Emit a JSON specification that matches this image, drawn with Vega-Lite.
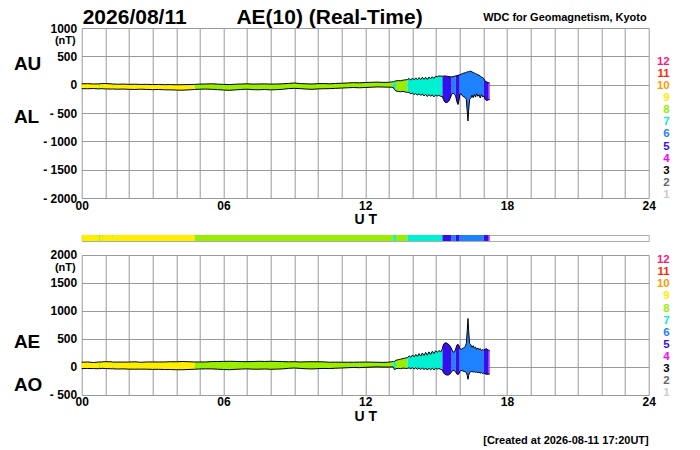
{
  "$schema": "https://vega.github.io/schema/vega-lite/v6.json",
  "padding": {"left": 12.7, "top": 7, "right": 0, "bottom": 0},
  "bounds": "flush",
  "spacing": 37,
  "config": {
    "font": "Liberation Sans",
    "view": {"stroke": null},
    "axis": {
      "grid": true, "gridColor": "#999999", "gridWidth": 1, "gridOpacity": 1,
      "domain": false, "ticks": false,
      "labelFontSize": 12, "labelFontWeight": "bold", "labelColor": "#000000",
      "titleColor": "#000000", "titleFontWeight": "bold"
    },
    "axisX": {"tickCount": 24},
    "axisY": {"tickCount": 6},
    "text": {"fontWeight": "bold", "color": "#000000"}
  },
  "datasets": {
    "ae": [
      {"t": 0, "au": 15, "al": -70, "ae": 85, "ao": -28, "n": 9, "seg": 1},
      {"t": 0.25, "au": 18, "al": -72, "ae": 90, "ao": -27, "n": 9, "seg": 1},
      {"t": 0.5, "au": 12, "al": -68, "ae": 80, "ao": -28, "n": 9, "seg": 1},
      {"t": 0.73, "au": 14, "al": -75, "ae": 89, "ao": -31, "n": 9, "seg": 1},
      {"t": 0.73, "au": 14, "al": -75, "ae": 89, "ao": -31, "n": 8, "seg": 2},
      {"t": 0.77, "au": 16, "al": -73, "ae": 89, "ao": -29, "n": 8, "seg": 2},
      {"t": 0.77, "au": 16, "al": -73, "ae": 89, "ao": -29, "n": 9, "seg": 3},
      {"t": 0.86, "au": 20, "al": -70, "ae": 90, "ao": -25, "n": 9, "seg": 3},
      {"t": 0.86, "au": 20, "al": -70, "ae": 90, "ao": -25, "n": 8, "seg": 4},
      {"t": 0.89, "au": 22, "al": -72, "ae": 94, "ao": -25, "n": 8, "seg": 4},
      {"t": 0.89, "au": 22, "al": -72, "ae": 94, "ao": -25, "n": 9, "seg": 5},
      {"t": 1, "au": 20, "al": -75, "ae": 95, "ao": -28, "n": 9, "seg": 5},
      {"t": 1.28, "au": 14, "al": -78, "ae": 92, "ao": -32, "n": 9, "seg": 5},
      {"t": 1.28, "au": 14, "al": -78, "ae": 92, "ao": -32, "n": 8, "seg": 6},
      {"t": 1.31, "au": 12, "al": -76, "ae": 88, "ao": -32, "n": 8, "seg": 6},
      {"t": 1.31, "au": 12, "al": -76, "ae": 88, "ao": -32, "n": 9, "seg": 7},
      {"t": 1.5, "au": 8, "al": -80, "ae": 88, "ao": -36, "n": 9, "seg": 7},
      {"t": 1.75, "au": 10, "al": -78, "ae": 88, "ao": -34, "n": 9, "seg": 7},
      {"t": 2, "au": 6, "al": -82, "ae": 88, "ao": -38, "n": 9, "seg": 7},
      {"t": 2.25, "au": 8, "al": -85, "ae": 93, "ao": -39, "n": 9, "seg": 7},
      {"t": 2.5, "au": 4, "al": -80, "ae": 84, "ao": -38, "n": 9, "seg": 7},
      {"t": 2.75, "au": 6, "al": -84, "ae": 90, "ao": -39, "n": 9, "seg": 7},
      {"t": 3, "au": 2, "al": -88, "ae": 90, "ao": -43, "n": 9, "seg": 7},
      {"t": 3.25, "au": 4, "al": -85, "ae": 89, "ao": -41, "n": 9, "seg": 7},
      {"t": 3.5, "au": 0, "al": -90, "ae": 90, "ao": -45, "n": 9, "seg": 7},
      {"t": 3.75, "au": 2, "al": -92, "ae": 94, "ao": -45, "n": 9, "seg": 7},
      {"t": 4, "au": -2, "al": -95, "ae": 93, "ao": -49, "n": 9, "seg": 7},
      {"t": 4.25, "au": 0, "al": -98, "ae": 98, "ao": -49, "n": 9, "seg": 7},
      {"t": 4.5, "au": 2, "al": -92, "ae": 94, "ao": -45, "n": 9, "seg": 7},
      {"t": 4.78, "au": 5, "al": -85, "ae": 90, "ao": -40, "n": 9, "seg": 7},
      {"t": 4.78, "au": 5, "al": -85, "ae": 90, "ao": -40, "n": 8, "seg": 8},
      {"t": 5, "au": 10, "al": -80, "ae": 90, "ao": -35, "n": 8, "seg": 8},
      {"t": 5.25, "au": 12, "al": -78, "ae": 90, "ao": -33, "n": 8, "seg": 8},
      {"t": 5.5, "au": 15, "al": -82, "ae": 97, "ao": -34, "n": 8, "seg": 8},
      {"t": 5.75, "au": 10, "al": -88, "ae": 98, "ao": -39, "n": 8, "seg": 8},
      {"t": 6, "au": 5, "al": -95, "ae": 100, "ao": -45, "n": 8, "seg": 8},
      {"t": 6.25, "au": 2, "al": -100, "ae": 102, "ao": -49, "n": 8, "seg": 8},
      {"t": 6.5, "au": 8, "al": -92, "ae": 100, "ao": -42, "n": 8, "seg": 8},
      {"t": 6.75, "au": 12, "al": -85, "ae": 97, "ao": -37, "n": 8, "seg": 8},
      {"t": 7, "au": 15, "al": -80, "ae": 95, "ao": -33, "n": 8, "seg": 8},
      {"t": 7.25, "au": 10, "al": -88, "ae": 98, "ao": -39, "n": 8, "seg": 8},
      {"t": 7.5, "au": 12, "al": -90, "ae": 102, "ao": -39, "n": 8, "seg": 8},
      {"t": 7.75, "au": 14, "al": -85, "ae": 99, "ao": -36, "n": 8, "seg": 8},
      {"t": 8, "au": 10, "al": -92, "ae": 102, "ao": -41, "n": 8, "seg": 8},
      {"t": 8.25, "au": 12, "al": -88, "ae": 100, "ao": -38, "n": 8, "seg": 8},
      {"t": 8.5, "au": 15, "al": -82, "ae": 97, "ao": -34, "n": 8, "seg": 8},
      {"t": 8.75, "au": 22, "al": -70, "ae": 92, "ao": -24, "n": 8, "seg": 8},
      {"t": 9, "au": 30, "al": -65, "ae": 95, "ao": -18, "n": 8, "seg": 8},
      {"t": 9.25, "au": 20, "al": -70, "ae": 90, "ao": -25, "n": 8, "seg": 8},
      {"t": 9.5, "au": 15, "al": -78, "ae": 93, "ao": -32, "n": 8, "seg": 8},
      {"t": 9.75, "au": 12, "al": -82, "ae": 94, "ao": -35, "n": 8, "seg": 8},
      {"t": 10, "au": 18, "al": -75, "ae": 93, "ao": -29, "n": 8, "seg": 8},
      {"t": 10.25, "au": 20, "al": -72, "ae": 92, "ao": -26, "n": 8, "seg": 8},
      {"t": 10.5, "au": 15, "al": -70, "ae": 85, "ao": -28, "n": 8, "seg": 8},
      {"t": 10.75, "au": 22, "al": -65, "ae": 87, "ao": -22, "n": 8, "seg": 8},
      {"t": 11, "au": 25, "al": -60, "ae": 85, "ao": -18, "n": 8, "seg": 8},
      {"t": 11.25, "au": 30, "al": -55, "ae": 85, "ao": -13, "n": 8, "seg": 8},
      {"t": 11.5, "au": 35, "al": -50, "ae": 85, "ao": -8, "n": 8, "seg": 8},
      {"t": 11.75, "au": 32, "al": -55, "ae": 87, "ao": -12, "n": 8, "seg": 8},
      {"t": 12, "au": 38, "al": -50, "ae": 88, "ao": -6, "n": 8, "seg": 8},
      {"t": 12.25, "au": 42, "al": -45, "ae": 87, "ao": -2, "n": 8, "seg": 8},
      {"t": 12.5, "au": 45, "al": -40, "ae": 85, "ao": 3, "n": 8, "seg": 8},
      {"t": 12.75, "au": 40, "al": -42, "ae": 82, "ao": -1, "n": 8, "seg": 8},
      {"t": 13, "au": 42, "al": -44, "ae": 86, "ao": -1, "n": 8, "seg": 8},
      {"t": 13.1, "au": 48, "al": -45, "ae": 93, "ao": 2, "n": 8, "seg": 8},
      {"t": 13.19, "au": 52, "al": -48, "ae": 100, "ao": 2, "n": 8, "seg": 8},
      {"t": 13.19, "au": 52, "al": -48, "ae": 100, "ao": 2, "n": 7, "seg": 9},
      {"t": 13.24, "au": 60, "al": -90, "ae": 100, "ao": -50, "n": 7, "seg": 9},
      {"t": 13.3, "au": 66, "al": -110, "ae": 120, "ao": -30, "n": 7, "seg": 9},
      {"t": 13.3, "au": 66, "al": -110, "ae": 120, "ao": -30, "n": 8, "seg": 10},
      {"t": 13.4, "au": 72, "al": -120, "ae": 130, "ao": -25, "n": 8, "seg": 10},
      {"t": 13.5, "au": 68, "al": -125, "ae": 140, "ao": -30, "n": 8, "seg": 10},
      {"t": 13.6, "au": 80, "al": -118, "ae": 150, "ao": -20, "n": 8, "seg": 10},
      {"t": 13.7, "au": 85, "al": -130, "ae": 160, "ao": -25, "n": 8, "seg": 10},
      {"t": 13.79, "au": 90, "al": -135, "ae": 165, "ao": -25, "n": 8, "seg": 10},
      {"t": 13.79, "au": 90, "al": -135, "ae": 165, "ao": -25, "n": 7, "seg": 11},
      {"t": 13.86, "au": 110, "al": -140, "ae": 200, "ao": -15, "n": 7, "seg": 11},
      {"t": 13.93, "au": 80, "al": -160, "ae": 175, "ao": -30, "n": 7, "seg": 11},
      {"t": 14, "au": 115, "al": -150, "ae": 215, "ao": -12, "n": 7, "seg": 11},
      {"t": 14.07, "au": 85, "al": -175, "ae": 180, "ao": -35, "n": 7, "seg": 11},
      {"t": 14.14, "au": 120, "al": -155, "ae": 225, "ao": -15, "n": 7, "seg": 11},
      {"t": 14.21, "au": 88, "al": -185, "ae": 190, "ao": -40, "n": 7, "seg": 11},
      {"t": 14.28, "au": 125, "al": -160, "ae": 240, "ao": -15, "n": 7, "seg": 11},
      {"t": 14.35, "au": 90, "al": -190, "ae": 195, "ao": -45, "n": 7, "seg": 11},
      {"t": 14.42, "au": 130, "al": -165, "ae": 250, "ao": -15, "n": 7, "seg": 11},
      {"t": 14.49, "au": 95, "al": -200, "ae": 205, "ao": -50, "n": 7, "seg": 11},
      {"t": 14.56, "au": 130, "al": -170, "ae": 260, "ao": -18, "n": 7, "seg": 11},
      {"t": 14.63, "au": 92, "al": -210, "ae": 210, "ao": -55, "n": 7, "seg": 11},
      {"t": 14.7, "au": 135, "al": -175, "ae": 270, "ao": -20, "n": 7, "seg": 11},
      {"t": 14.77, "au": 105, "al": -205, "ae": 225, "ao": -50, "n": 7, "seg": 11},
      {"t": 14.84, "au": 140, "al": -180, "ae": 280, "ao": -22, "n": 7, "seg": 11},
      {"t": 14.91, "au": 110, "al": -215, "ae": 240, "ao": -55, "n": 7, "seg": 11},
      {"t": 14.98, "au": 150, "al": -185, "ae": 290, "ao": -20, "n": 7, "seg": 11},
      {"t": 15.05, "au": 140, "al": -200, "ae": 260, "ao": -40, "n": 7, "seg": 11},
      {"t": 15.12, "au": 155, "al": -190, "ae": 295, "ao": -25, "n": 7, "seg": 11},
      {"t": 15.2, "au": 150, "al": -205, "ae": 270, "ao": -45, "n": 7, "seg": 11},
      {"t": 15.27, "au": 150, "al": -210, "ae": 330, "ao": -50, "n": 7, "seg": 11},
      {"t": 15.27, "au": 150, "al": -210, "ae": 330, "ao": -50, "n": 5, "seg": 12},
      {"t": 15.31, "au": 150, "al": -260, "ae": 400, "ao": -100, "n": 5, "seg": 12},
      {"t": 15.36, "au": 155, "al": -300, "ae": 425, "ao": -125, "n": 5, "seg": 12},
      {"t": 15.42, "au": 150, "al": -318, "ae": 432, "ao": -140, "n": 5, "seg": 12},
      {"t": 15.48, "au": 148, "al": -310, "ae": 420, "ao": -145, "n": 5, "seg": 12},
      {"t": 15.54, "au": 142, "al": -290, "ae": 400, "ao": -140, "n": 5, "seg": 12},
      {"t": 15.6, "au": 138, "al": -240, "ae": 370, "ao": -120, "n": 5, "seg": 12},
      {"t": 15.66, "au": 140, "al": -170, "ae": 320, "ao": -80, "n": 5, "seg": 12},
      {"t": 15.66, "au": 140, "al": -170, "ae": 320, "ao": -80, "n": 6, "seg": 13},
      {"t": 15.72, "au": 140, "al": -150, "ae": 265, "ao": -60, "n": 6, "seg": 13},
      {"t": 15.78, "au": 150, "al": -170, "ae": 270, "ao": -65, "n": 6, "seg": 13},
      {"t": 15.83, "au": 155, "al": -200, "ae": 320, "ao": -90, "n": 6, "seg": 13},
      {"t": 15.83, "au": 155, "al": -200, "ae": 320, "ao": -90, "n": 5, "seg": 14},
      {"t": 15.88, "au": 160, "al": -300, "ae": 390, "ao": -125, "n": 5, "seg": 14},
      {"t": 15.93, "au": 165, "al": -350, "ae": 405, "ao": -135, "n": 5, "seg": 14},
      {"t": 15.97, "au": 170, "al": -280, "ae": 380, "ao": -120, "n": 5, "seg": 14},
      {"t": 16, "au": 175, "al": -170, "ae": 330, "ao": -80, "n": 5, "seg": 14},
      {"t": 16, "au": 175, "al": -170, "ae": 330, "ao": -80, "n": 6, "seg": 15},
      {"t": 16.06, "au": 185, "al": -160, "ae": 315, "ao": -60, "n": 6, "seg": 15},
      {"t": 16.12, "au": 195, "al": -200, "ae": 330, "ao": -70, "n": 6, "seg": 15},
      {"t": 16.18, "au": 205, "al": -215, "ae": 345, "ao": -75, "n": 6, "seg": 15},
      {"t": 16.24, "au": 210, "al": -230, "ae": 370, "ao": -90, "n": 6, "seg": 15},
      {"t": 16.28, "au": 218, "al": -260, "ae": 420, "ao": -100, "n": 6, "seg": 15},
      {"t": 16.32, "au": 225, "al": -480, "ae": 650, "ao": -150, "n": 6, "seg": 15},
      {"t": 16.35, "au": 228, "al": -640, "ae": 866, "ao": -220, "n": 6, "seg": 15},
      {"t": 16.38, "au": 230, "al": -450, "ae": 640, "ao": -150, "n": 6, "seg": 15},
      {"t": 16.42, "au": 235, "al": -260, "ae": 420, "ao": -95, "n": 6, "seg": 15},
      {"t": 16.47, "au": 238, "al": -240, "ae": 400, "ao": -85, "n": 6, "seg": 15},
      {"t": 16.52, "au": 225, "al": -185, "ae": 350, "ao": -80, "n": 6, "seg": 15},
      {"t": 16.57, "au": 215, "al": -230, "ae": 380, "ao": -90, "n": 6, "seg": 15},
      {"t": 16.62, "au": 205, "al": -175, "ae": 340, "ao": -85, "n": 6, "seg": 15},
      {"t": 16.67, "au": 195, "al": -220, "ae": 355, "ao": -95, "n": 6, "seg": 15},
      {"t": 16.72, "au": 185, "al": -160, "ae": 315, "ao": -90, "n": 6, "seg": 15},
      {"t": 16.77, "au": 175, "al": -205, "ae": 340, "ao": -100, "n": 6, "seg": 15},
      {"t": 16.82, "au": 165, "al": -180, "ae": 310, "ao": -95, "n": 6, "seg": 15},
      {"t": 16.87, "au": 150, "al": -235, "ae": 330, "ao": -110, "n": 6, "seg": 15},
      {"t": 16.92, "au": 135, "al": -175, "ae": 295, "ao": -100, "n": 6, "seg": 15},
      {"t": 16.97, "au": 125, "al": -215, "ae": 310, "ao": -115, "n": 6, "seg": 15},
      {"t": 17.02, "au": 110, "al": -200, "ae": 300, "ao": -110, "n": 6, "seg": 15},
      {"t": 17.02, "au": 110, "al": -200, "ae": 300, "ao": -110, "n": 5, "seg": 16},
      {"t": 17.08, "au": 60, "al": -260, "ae": 320, "ao": -125, "n": 5, "seg": 16},
      {"t": 17.14, "au": 50, "al": -280, "ae": 325, "ao": -130, "n": 5, "seg": 16},
      {"t": 17.2, "au": 35, "al": -270, "ae": 305, "ao": -130, "n": 5, "seg": 16},
      {"t": 17.2, "au": 35, "al": -270, "ae": 305, "ao": -130, "n": 4, "seg": 17},
      {"t": 17.27, "au": 30, "al": -260, "ae": 290, "ao": -125, "n": 4, "seg": 17}
    ],
    "counts": [
      {"k": 12}, {"k": 11}, {"k": 10}, {"k": 9}, {"k": 8}, {"k": 7},
      {"k": 6}, {"k": 5}, {"k": 4}, {"k": 3}, {"k": 2}, {"k": 1}
    ]
  },
  "vconcat": [
    {
      "width": 567,
      "height": 170,
      "layer": [
        {
          "data": {"name": "ae"},
          "layer": [
            {
              "mark": {"type": "area", "orient": "vertical"},
              "encoding": {
                "x": {
                  "field": "t", "type": "quantitative",
                  "scale": {"domain": [0, 24], "nice": false, "zero": false},
                  "axis": {
                    "labelExpr": "datum.value % 6 == 0 ? (datum.value < 10 ? '0' + datum.value : '' + datum.value) : ''",
                    "labelFlush": false, "labelOverlap": false, "labelPadding": 2,
                    "title": "U T", "titleFontSize": 14, "titlePadding": 2
                  }
                },
                "y": {
                  "field": "au", "type": "quantitative", "stack": null,
                  "scale": {"domain": [-2000, 1000], "nice": false, "zero": false},
                  "axis": {
                    "labelExpr": "datum.value < 0 ? '- ' + (-datum.value) : '' + datum.value",
                    "labelOverlap": false, "labelPadding": 5,
                    "title": ["AU", "AL"], "titleFontSize": 19, "titleAngle": 0,
                    "titleAlign": "left", "titleBaseline": "alphabetic",
                    "titleX": -68.3, "titleY": 41.3, "titleLineHeight": 53.4
                  }
                },
                "y2": {"field": "al"},
                "color": {
                  "field": "n", "type": "nominal",
                  "scale": {"domain": [4, 5, 6, 7, 8, 9], "range": ["#9933ff", "#3311ee", "#1e82ff", "#00f0d2", "#99ee00", "#ffee00"]},
                  "legend": null
                },
                "detail": {"field": "seg", "type": "nominal"}
              }
            },
            {
              "mark": {"type": "line", "color": "#000000", "strokeWidth": 1},
              "encoding": {
                "x": {"field": "t", "type": "quantitative"},
                "y": {"field": "au", "type": "quantitative"}
              }
            },
            {
              "mark": {"type": "line", "color": "#000000", "strokeWidth": 1},
              "encoding": {
                "x": {"field": "t", "type": "quantitative"},
                "y": {"field": "al", "type": "quantitative"}
              }
            },
            {
              "data": {"values": [{}]},
              "mark": {"type": "text", "fontSize": 11, "align": "right", "baseline": "middle", "dx": -6, "dy": 13},
              "encoding": {"x": {"datum": 0}, "y": {"datum": 1000}, "text": {"value": "(nT)"}}
            },
            {
              "data": {"values": [{}]},
              "mark": {"type": "text", "fontSize": 21, "align": "left", "baseline": "alphabetic", "dx": 1, "dy": -4},
              "encoding": {"x": {"datum": 0}, "y": {"datum": 1000}, "text": {"value": "2026/08/11"}}
            },
            {
              "data": {"values": [{}]},
              "mark": {"type": "text", "fontSize": 21, "align": "left", "baseline": "alphabetic", "dy": -4},
              "encoding": {"x": {"datum": 6.55}, "y": {"datum": 1000}, "text": {"value": "AE(10) (Real-Time)"}}
            },
            {
              "data": {"values": [{}]},
              "mark": {"type": "text", "fontSize": 11, "align": "right", "baseline": "alphabetic", "dx": -2, "dy": -7},
              "encoding": {"x": {"datum": 24}, "y": {"datum": 1000}, "text": {"value": "WDC for Geomagnetism, Kyoto"}}
            }
          ]
        },
        {
          "data": {"name": "counts"},
          "mark": {"type": "text", "fontSize": 11.5, "align": "right", "baseline": "middle", "dx": 21},
          "encoding": {
            "x": {"datum": 24},
            "y": {"field": "k", "type": "ordinal", "scale": {"domain": [12, 11, 10, 9, 8, 7, 6, 5, 4, 3, 2, 1], "range": [33.7, 167], "padding": 0}, "axis": null},
            "text": {"field": "k", "type": "ordinal"},
            "color": {
              "field": "k", "type": "ordinal",
              "scale": {"domain": [12, 11, 10, 9, 8, 7, 6, 5, 4, 3, 2, 1], "range": ["#ff1a75", "#ff2a00", "#ff9900", "#ffee00", "#99ee00", "#00eecc", "#1e82ff", "#3311ee", "#ff00ff", "#000000", "#666666", "#cccccc"]},
              "legend": null
            }
          }
        }
      ],
      "resolve": {"scale": {"y": "independent", "color": "independent"}}
    },
    {
      "bounds": "flush",
      "spacing": 14,
      "vconcat": [
        {
          "width": 567,
          "height": 6,
          "view": {"stroke": "#aaaaaa", "strokeWidth": 1},
          "data": {"name": "ae"},
          "transform": [
            {"aggregate": [{"op": "min", "field": "t", "as": "t0"}, {"op": "max", "field": "t", "as": "t1"}], "groupby": ["seg", "n"]}
          ],
          "mark": "rect",
          "encoding": {
            "x": {"field": "t0", "type": "quantitative", "scale": {"domain": [0, 24], "nice": false, "zero": false}, "axis": null},
            "x2": {"field": "t1"},
            "color": {
              "field": "n", "type": "nominal",
              "scale": {"domain": [4, 5, 6, 7, 8, 9], "range": ["#9933ff", "#3311ee", "#1e82ff", "#00f0d2", "#99ee00", "#ffee00"]},
              "legend": null
            }
          }
        },
        {
          "width": 567,
          "height": 140,
          "layer": [
            {
              "data": {"name": "ae"},
              "layer": [
                {
                  "mark": {"type": "area", "orient": "vertical"},
                  "encoding": {
                    "x": {
                      "field": "t", "type": "quantitative",
                      "scale": {"domain": [0, 24], "nice": false, "zero": false},
                      "axis": {
                        "labelExpr": "datum.value % 6 == 0 ? (datum.value < 10 ? '0' + datum.value : '' + datum.value) : ''",
                        "labelFlush": false, "labelOverlap": false, "labelPadding": 2,
                        "title": "U T", "titleFontSize": 14, "titlePadding": 2
                      }
                    },
                    "y": {
                      "field": "ae", "type": "quantitative", "stack": null,
                      "scale": {"domain": [-500, 2000], "nice": false, "zero": false},
                      "axis": {
                        "labelExpr": "datum.value < 0 ? '- ' + (-datum.value) : '' + datum.value",
                        "labelOverlap": false, "labelPadding": 5,
                        "title": ["AE", "AO"], "titleFontSize": 19, "titleAngle": 0,
                        "titleAlign": "left", "titleBaseline": "alphabetic",
                        "titleX": -68.3, "titleY": 92.3, "titleLineHeight": 43
                      }
                    },
                    "y2": {"field": "ao"},
                    "color": {
                      "field": "n", "type": "nominal",
                      "scale": {"domain": [4, 5, 6, 7, 8, 9], "range": ["#9933ff", "#3311ee", "#1e82ff", "#00f0d2", "#99ee00", "#ffee00"]},
                      "legend": null
                    },
                    "detail": {"field": "seg", "type": "nominal"}
                  }
                },
                {
                  "mark": {"type": "line", "color": "#000000", "strokeWidth": 1},
                  "encoding": {
                    "x": {"field": "t", "type": "quantitative"},
                    "y": {"field": "ae", "type": "quantitative"}
                  }
                },
                {
                  "mark": {"type": "line", "color": "#000000", "strokeWidth": 1},
                  "encoding": {
                    "x": {"field": "t", "type": "quantitative"},
                    "y": {"field": "ao", "type": "quantitative"}
                  }
                },
                {
                  "data": {"values": [{}]},
                  "mark": {"type": "text", "fontSize": 11, "align": "right", "baseline": "middle", "dx": -6, "dy": 13},
                  "encoding": {"x": {"datum": 0}, "y": {"datum": 2000}, "text": {"value": "(nT)"}}
                },
                {
                  "data": {"values": [{}]},
                  "mark": {"type": "text", "fontSize": 11, "align": "right", "baseline": "alphabetic", "dy": 49},
                  "encoding": {"x": {"datum": 24}, "y": {"datum": -500}, "text": {"value": "[Created at 2026-08-11 17:20UT]"}}
                }
              ]
            },
            {
              "data": {"name": "counts"},
              "mark": {"type": "text", "fontSize": 11.5, "align": "right", "baseline": "middle", "dx": 21},
              "encoding": {
                "x": {"datum": 24},
                "y": {"field": "k", "type": "ordinal", "scale": {"domain": [12, 11, 10, 9, 8, 7, 6, 5, 4, 3, 2, 1], "range": [5.3, 138], "padding": 0}, "axis": null},
                "text": {"field": "k", "type": "ordinal"},
                "color": {
                  "field": "k", "type": "ordinal",
                  "scale": {"domain": [12, 11, 10, 9, 8, 7, 6, 5, 4, 3, 2, 1], "range": ["#ff1a75", "#ff2a00", "#ff9900", "#ffee00", "#99ee00", "#00eecc", "#1e82ff", "#3311ee", "#ff00ff", "#000000", "#666666", "#cccccc"]},
                  "legend": null
                }
              }
            }
          ],
          "resolve": {"scale": {"y": "independent", "color": "independent"}}
        }
      ]
    }
  ]
}
